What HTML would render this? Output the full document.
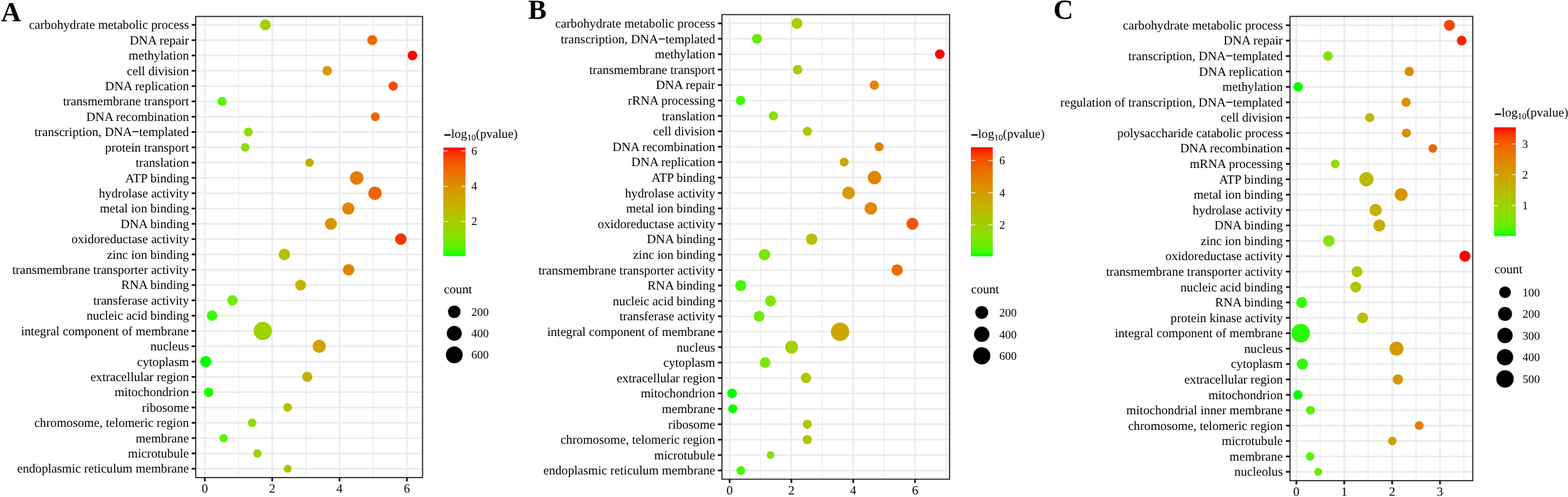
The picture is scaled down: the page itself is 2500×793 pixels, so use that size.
<!DOCTYPE html>
<html><head><meta charset="utf-8"><title>GO enrichment dot plots</title>
<style>
html,body{margin:0;padding:0;background:#fff;overflow:hidden;}
svg{display:block;}
text{font-family:"Liberation Serif","Times New Roman",serif;fill:#000;text-rendering:geometricPrecision;}
.lab{font-size:20.15px;}
.leg{font-size:18.5px;}
.big{font-size:44px;font-weight:bold;}
</style></head><body>
<svg width="2500" height="793" viewBox="0 0 2500 793">
<rect x="0" y="0" width="2500" height="793" fill="#fff"/>
<defs><linearGradient id="cbA" x1="0" y1="0" x2="0" y2="1"><stop offset="0.0000" stop-color="#FF0000"/><stop offset="0.0417" stop-color="#FC2E00"/><stop offset="0.0833" stop-color="#F84300"/><stop offset="0.1250" stop-color="#F45300"/><stop offset="0.1667" stop-color="#F16000"/><stop offset="0.2083" stop-color="#ED6C00"/><stop offset="0.2500" stop-color="#E87600"/><stop offset="0.2917" stop-color="#E48000"/><stop offset="0.3333" stop-color="#DF8A00"/><stop offset="0.3750" stop-color="#DA9200"/><stop offset="0.4167" stop-color="#D49B00"/><stop offset="0.4583" stop-color="#CFA300"/><stop offset="0.5000" stop-color="#C9AB00"/><stop offset="0.5417" stop-color="#C2B300"/><stop offset="0.5833" stop-color="#BBBA00"/><stop offset="0.6250" stop-color="#B3C200"/><stop offset="0.6667" stop-color="#ABC900"/><stop offset="0.7083" stop-color="#A2D000"/><stop offset="0.7500" stop-color="#98D700"/><stop offset="0.7917" stop-color="#8CDE00"/><stop offset="0.8333" stop-color="#7FE400"/><stop offset="0.8750" stop-color="#70EB00"/><stop offset="0.9167" stop-color="#5DF200"/><stop offset="0.9583" stop-color="#43F800"/><stop offset="1.0000" stop-color="#00FF00"/></linearGradient><linearGradient id="cbB" x1="0" y1="0" x2="0" y2="1"><stop offset="0.0000" stop-color="#FF0000"/><stop offset="0.0417" stop-color="#FC2E00"/><stop offset="0.0833" stop-color="#F84300"/><stop offset="0.1250" stop-color="#F45300"/><stop offset="0.1667" stop-color="#F16000"/><stop offset="0.2083" stop-color="#ED6C00"/><stop offset="0.2500" stop-color="#E87600"/><stop offset="0.2917" stop-color="#E48000"/><stop offset="0.3333" stop-color="#DF8A00"/><stop offset="0.3750" stop-color="#DA9200"/><stop offset="0.4167" stop-color="#D49B00"/><stop offset="0.4583" stop-color="#CFA300"/><stop offset="0.5000" stop-color="#C9AB00"/><stop offset="0.5417" stop-color="#C2B300"/><stop offset="0.5833" stop-color="#BBBA00"/><stop offset="0.6250" stop-color="#B3C200"/><stop offset="0.6667" stop-color="#ABC900"/><stop offset="0.7083" stop-color="#A2D000"/><stop offset="0.7500" stop-color="#98D700"/><stop offset="0.7917" stop-color="#8CDE00"/><stop offset="0.8333" stop-color="#7FE400"/><stop offset="0.8750" stop-color="#70EB00"/><stop offset="0.9167" stop-color="#5DF200"/><stop offset="0.9583" stop-color="#43F800"/><stop offset="1.0000" stop-color="#00FF00"/></linearGradient><linearGradient id="cbC" x1="0" y1="0" x2="0" y2="1"><stop offset="0.0000" stop-color="#FF0000"/><stop offset="0.0417" stop-color="#FC2E00"/><stop offset="0.0833" stop-color="#F84300"/><stop offset="0.1250" stop-color="#F45300"/><stop offset="0.1667" stop-color="#F16000"/><stop offset="0.2083" stop-color="#ED6C00"/><stop offset="0.2500" stop-color="#E87600"/><stop offset="0.2917" stop-color="#E48000"/><stop offset="0.3333" stop-color="#DF8A00"/><stop offset="0.3750" stop-color="#DA9200"/><stop offset="0.4167" stop-color="#D49B00"/><stop offset="0.4583" stop-color="#CFA300"/><stop offset="0.5000" stop-color="#C9AB00"/><stop offset="0.5417" stop-color="#C2B300"/><stop offset="0.5833" stop-color="#BBBA00"/><stop offset="0.6250" stop-color="#B3C200"/><stop offset="0.6667" stop-color="#ABC900"/><stop offset="0.7083" stop-color="#A2D000"/><stop offset="0.7500" stop-color="#98D700"/><stop offset="0.7917" stop-color="#8CDE00"/><stop offset="0.8333" stop-color="#7FE400"/><stop offset="0.8750" stop-color="#70EB00"/><stop offset="0.9167" stop-color="#5DF200"/><stop offset="0.9583" stop-color="#43F800"/><stop offset="1.0000" stop-color="#00FF00"/></linearGradient></defs>
<g id="panelA">
<text class="big" x="1.7" y="33.5">A</text>
<line x1="380.3" y1="26.3" x2="380.3" y2="762" stroke="#EBEBEB" stroke-width="1.4"/>
<line x1="487.7" y1="26.3" x2="487.7" y2="762" stroke="#EBEBEB" stroke-width="1.4"/>
<line x1="595.1" y1="26.3" x2="595.1" y2="762" stroke="#EBEBEB" stroke-width="1.4"/>
<line x1="326.6" y1="26.3" x2="326.6" y2="762" stroke="#EBEBEB" stroke-width="2.6"/>
<line x1="434" y1="26.3" x2="434" y2="762" stroke="#EBEBEB" stroke-width="2.6"/>
<line x1="541.4" y1="26.3" x2="541.4" y2="762" stroke="#EBEBEB" stroke-width="2.6"/>
<line x1="648.8" y1="26.3" x2="648.8" y2="762" stroke="#EBEBEB" stroke-width="2.6"/>
<line x1="312.1" y1="39.7" x2="673.7" y2="39.7" stroke="#EBEBEB" stroke-width="2.6"/>
<line x1="312.1" y1="64.12" x2="673.7" y2="64.12" stroke="#EBEBEB" stroke-width="2.6"/>
<line x1="312.1" y1="88.54" x2="673.7" y2="88.54" stroke="#EBEBEB" stroke-width="2.6"/>
<line x1="312.1" y1="112.96" x2="673.7" y2="112.96" stroke="#EBEBEB" stroke-width="2.6"/>
<line x1="312.1" y1="137.38" x2="673.7" y2="137.38" stroke="#EBEBEB" stroke-width="2.6"/>
<line x1="312.1" y1="161.8" x2="673.7" y2="161.8" stroke="#EBEBEB" stroke-width="2.6"/>
<line x1="312.1" y1="186.22" x2="673.7" y2="186.22" stroke="#EBEBEB" stroke-width="2.6"/>
<line x1="312.1" y1="210.64" x2="673.7" y2="210.64" stroke="#EBEBEB" stroke-width="2.6"/>
<line x1="312.1" y1="235.06" x2="673.7" y2="235.06" stroke="#EBEBEB" stroke-width="2.6"/>
<line x1="312.1" y1="259.48" x2="673.7" y2="259.48" stroke="#EBEBEB" stroke-width="2.6"/>
<line x1="312.1" y1="283.9" x2="673.7" y2="283.9" stroke="#EBEBEB" stroke-width="2.6"/>
<line x1="312.1" y1="308.32" x2="673.7" y2="308.32" stroke="#EBEBEB" stroke-width="2.6"/>
<line x1="312.1" y1="332.74" x2="673.7" y2="332.74" stroke="#EBEBEB" stroke-width="2.6"/>
<line x1="312.1" y1="357.16" x2="673.7" y2="357.16" stroke="#EBEBEB" stroke-width="2.6"/>
<line x1="312.1" y1="381.58" x2="673.7" y2="381.58" stroke="#EBEBEB" stroke-width="2.6"/>
<line x1="312.1" y1="406" x2="673.7" y2="406" stroke="#EBEBEB" stroke-width="2.6"/>
<line x1="312.1" y1="430.42" x2="673.7" y2="430.42" stroke="#EBEBEB" stroke-width="2.6"/>
<line x1="312.1" y1="454.84" x2="673.7" y2="454.84" stroke="#EBEBEB" stroke-width="2.6"/>
<line x1="312.1" y1="479.26" x2="673.7" y2="479.26" stroke="#EBEBEB" stroke-width="2.6"/>
<line x1="312.1" y1="503.68" x2="673.7" y2="503.68" stroke="#EBEBEB" stroke-width="2.6"/>
<line x1="312.1" y1="528.1" x2="673.7" y2="528.1" stroke="#EBEBEB" stroke-width="2.6"/>
<line x1="312.1" y1="552.52" x2="673.7" y2="552.52" stroke="#EBEBEB" stroke-width="2.6"/>
<line x1="312.1" y1="576.94" x2="673.7" y2="576.94" stroke="#EBEBEB" stroke-width="2.6"/>
<line x1="312.1" y1="601.36" x2="673.7" y2="601.36" stroke="#EBEBEB" stroke-width="2.6"/>
<line x1="312.1" y1="625.78" x2="673.7" y2="625.78" stroke="#EBEBEB" stroke-width="2.6"/>
<line x1="312.1" y1="650.2" x2="673.7" y2="650.2" stroke="#EBEBEB" stroke-width="2.6"/>
<line x1="312.1" y1="674.62" x2="673.7" y2="674.62" stroke="#EBEBEB" stroke-width="2.6"/>
<line x1="312.1" y1="699.04" x2="673.7" y2="699.04" stroke="#EBEBEB" stroke-width="2.6"/>
<line x1="312.1" y1="723.46" x2="673.7" y2="723.46" stroke="#EBEBEB" stroke-width="2.6"/>
<line x1="312.1" y1="747.88" x2="673.7" y2="747.88" stroke="#EBEBEB" stroke-width="2.6"/>
<circle cx="423.1" cy="39.7" r="8.65" fill="#A1D000"/>
<circle cx="593.5" cy="64.12" r="8" fill="#EE6800"/>
<circle cx="657.6" cy="88.54" r="7.7" fill="#FF0000"/>
<circle cx="521.7" cy="112.96" r="7.65" fill="#D59A00"/>
<circle cx="626.9" cy="137.38" r="7.35" fill="#F74700"/>
<circle cx="353.9" cy="161.8" r="7.25" fill="#5BF300"/>
<circle cx="598.3" cy="186.22" r="7.05" fill="#EF6400"/>
<circle cx="395.9" cy="210.64" r="7.05" fill="#8CDE00"/>
<circle cx="390.8" cy="235.06" r="6.95" fill="#87E100"/>
<circle cx="493.5" cy="259.48" r="6.85" fill="#C9AB00"/>
<circle cx="568.7" cy="283.9" r="10.75" fill="#E67B00"/>
<circle cx="597.9" cy="308.32" r="10.65" fill="#EF6400"/>
<circle cx="555.4" cy="332.74" r="9.75" fill="#E28500"/>
<circle cx="527.6" cy="357.16" r="9.55" fill="#D79600"/>
<circle cx="639.1" cy="381.58" r="9.25" fill="#FA3700"/>
<circle cx="453.5" cy="406" r="9.15" fill="#B4C100"/>
<circle cx="555.8" cy="430.42" r="9.15" fill="#E28400"/>
<circle cx="479.2" cy="454.84" r="8.65" fill="#C2B300"/>
<circle cx="370.6" cy="479.26" r="8.35" fill="#72EB00"/>
<circle cx="338.1" cy="503.68" r="8.35" fill="#39FA00"/>
<circle cx="419" cy="528.1" r="14.55" fill="#9ED200"/>
<circle cx="509" cy="552.52" r="10.45" fill="#D0A200"/>
<circle cx="328" cy="576.94" r="9.05" fill="#00FF00"/>
<circle cx="489.9" cy="601.36" r="8.15" fill="#C7AD00"/>
<circle cx="332.6" cy="625.78" r="7.65" fill="#25FD00"/>
<circle cx="458.6" cy="650.2" r="6.95" fill="#B7BE00"/>
<circle cx="402" cy="674.62" r="6.75" fill="#91DB00"/>
<circle cx="356.5" cy="699.04" r="6.65" fill="#5FF100"/>
<circle cx="410.5" cy="723.46" r="6.65" fill="#98D700"/>
<circle cx="458.6" cy="747.88" r="6.3" fill="#B7BE00"/>
<rect x="312.1" y="26.3" width="361.6" height="735.7" fill="none" stroke="#262626" stroke-width="1.8"/>
<line x1="305.6" y1="39.7" x2="312.1" y2="39.7" stroke="#141414" stroke-width="2.7"/>
<text class="lab" x="301.3" y="46.3" text-anchor="end">carbohydrate metabolic process</text>
<line x1="305.6" y1="64.12" x2="312.1" y2="64.12" stroke="#141414" stroke-width="2.7"/>
<text class="lab" x="301.3" y="70.72" text-anchor="end">DNA repair</text>
<line x1="305.6" y1="88.54" x2="312.1" y2="88.54" stroke="#141414" stroke-width="2.7"/>
<text class="lab" x="301.3" y="95.14" text-anchor="end">methylation</text>
<line x1="305.6" y1="112.96" x2="312.1" y2="112.96" stroke="#141414" stroke-width="2.7"/>
<text class="lab" x="301.3" y="119.56" text-anchor="end">cell division</text>
<line x1="305.6" y1="137.38" x2="312.1" y2="137.38" stroke="#141414" stroke-width="2.7"/>
<text class="lab" x="301.3" y="143.98" text-anchor="end">DNA replication</text>
<line x1="305.6" y1="161.8" x2="312.1" y2="161.8" stroke="#141414" stroke-width="2.7"/>
<text class="lab" x="301.3" y="168.4" text-anchor="end">transmembrane transport</text>
<line x1="305.6" y1="186.22" x2="312.1" y2="186.22" stroke="#141414" stroke-width="2.7"/>
<text class="lab" x="301.3" y="192.82" text-anchor="end">DNA recombination</text>
<line x1="305.6" y1="210.64" x2="312.1" y2="210.64" stroke="#141414" stroke-width="2.7"/>
<text class="lab" x="301.3" y="217.24" text-anchor="end">transcription, DNA<tspan stroke="#000" stroke-width="0.6">−</tspan>templated</text>
<line x1="305.6" y1="235.06" x2="312.1" y2="235.06" stroke="#141414" stroke-width="2.7"/>
<text class="lab" x="301.3" y="241.66" text-anchor="end">protein transport</text>
<line x1="305.6" y1="259.48" x2="312.1" y2="259.48" stroke="#141414" stroke-width="2.7"/>
<text class="lab" x="301.3" y="266.08" text-anchor="end">translation</text>
<line x1="305.6" y1="283.9" x2="312.1" y2="283.9" stroke="#141414" stroke-width="2.7"/>
<text class="lab" x="301.3" y="290.5" text-anchor="end">ATP binding</text>
<line x1="305.6" y1="308.32" x2="312.1" y2="308.32" stroke="#141414" stroke-width="2.7"/>
<text class="lab" x="301.3" y="314.92" text-anchor="end">hydrolase activity</text>
<line x1="305.6" y1="332.74" x2="312.1" y2="332.74" stroke="#141414" stroke-width="2.7"/>
<text class="lab" x="301.3" y="339.34" text-anchor="end">metal ion binding</text>
<line x1="305.6" y1="357.16" x2="312.1" y2="357.16" stroke="#141414" stroke-width="2.7"/>
<text class="lab" x="301.3" y="363.76" text-anchor="end">DNA binding</text>
<line x1="305.6" y1="381.58" x2="312.1" y2="381.58" stroke="#141414" stroke-width="2.7"/>
<text class="lab" x="301.3" y="388.18" text-anchor="end">oxidoreductase activity</text>
<line x1="305.6" y1="406" x2="312.1" y2="406" stroke="#141414" stroke-width="2.7"/>
<text class="lab" x="301.3" y="412.6" text-anchor="end">zinc ion binding</text>
<line x1="305.6" y1="430.42" x2="312.1" y2="430.42" stroke="#141414" stroke-width="2.7"/>
<text class="lab" x="301.3" y="437.02" text-anchor="end">transmembrane transporter activity</text>
<line x1="305.6" y1="454.84" x2="312.1" y2="454.84" stroke="#141414" stroke-width="2.7"/>
<text class="lab" x="301.3" y="461.44" text-anchor="end">RNA binding</text>
<line x1="305.6" y1="479.26" x2="312.1" y2="479.26" stroke="#141414" stroke-width="2.7"/>
<text class="lab" x="301.3" y="485.86" text-anchor="end">transferase activity</text>
<line x1="305.6" y1="503.68" x2="312.1" y2="503.68" stroke="#141414" stroke-width="2.7"/>
<text class="lab" x="301.3" y="510.28" text-anchor="end">nucleic acid binding</text>
<line x1="305.6" y1="528.1" x2="312.1" y2="528.1" stroke="#141414" stroke-width="2.7"/>
<text class="lab" x="301.3" y="534.7" text-anchor="end">integral component of membrane</text>
<line x1="305.6" y1="552.52" x2="312.1" y2="552.52" stroke="#141414" stroke-width="2.7"/>
<text class="lab" x="301.3" y="559.12" text-anchor="end">nucleus</text>
<line x1="305.6" y1="576.94" x2="312.1" y2="576.94" stroke="#141414" stroke-width="2.7"/>
<text class="lab" x="301.3" y="583.54" text-anchor="end">cytoplasm</text>
<line x1="305.6" y1="601.36" x2="312.1" y2="601.36" stroke="#141414" stroke-width="2.7"/>
<text class="lab" x="301.3" y="607.96" text-anchor="end">extracellular region</text>
<line x1="305.6" y1="625.78" x2="312.1" y2="625.78" stroke="#141414" stroke-width="2.7"/>
<text class="lab" x="301.3" y="632.38" text-anchor="end">mitochondrion</text>
<line x1="305.6" y1="650.2" x2="312.1" y2="650.2" stroke="#141414" stroke-width="2.7"/>
<text class="lab" x="301.3" y="656.8" text-anchor="end">ribosome</text>
<line x1="305.6" y1="674.62" x2="312.1" y2="674.62" stroke="#141414" stroke-width="2.7"/>
<text class="lab" x="301.3" y="681.22" text-anchor="end">chromosome, telomeric region</text>
<line x1="305.6" y1="699.04" x2="312.1" y2="699.04" stroke="#141414" stroke-width="2.7"/>
<text class="lab" x="301.3" y="705.64" text-anchor="end">membrane</text>
<line x1="305.6" y1="723.46" x2="312.1" y2="723.46" stroke="#141414" stroke-width="2.7"/>
<text class="lab" x="301.3" y="730.06" text-anchor="end">microtubule</text>
<line x1="305.6" y1="747.88" x2="312.1" y2="747.88" stroke="#141414" stroke-width="2.7"/>
<text class="lab" x="301.3" y="754.48" text-anchor="end">endoplasmic reticulum membrane</text>
<line x1="326.6" y1="762" x2="326.6" y2="768" stroke="#141414" stroke-width="2.7"/>
<text class="lab" x="326.6" y="786" text-anchor="middle">0</text>
<line x1="434" y1="762" x2="434" y2="768" stroke="#141414" stroke-width="2.7"/>
<text class="lab" x="434" y="786" text-anchor="middle">2</text>
<line x1="541.4" y1="762" x2="541.4" y2="768" stroke="#141414" stroke-width="2.7"/>
<text class="lab" x="541.4" y="786" text-anchor="middle">4</text>
<line x1="648.8" y1="762" x2="648.8" y2="768" stroke="#141414" stroke-width="2.7"/>
<text class="lab" x="648.8" y="786" text-anchor="middle">6</text>
<rect x="706.8" y="235.5" width="35.4" height="173" fill="url(#cbA)"/>
<line x1="706.8" y1="240.8" x2="713.88" y2="240.8" stroke="#fff" stroke-width="1.1"/>
<line x1="735.12" y1="240.8" x2="742.2" y2="240.8" stroke="#fff" stroke-width="1.1"/>
<text class="leg" x="751.5" y="246.9">6</text>
<line x1="706.8" y1="297.3" x2="713.88" y2="297.3" stroke="#fff" stroke-width="1.1"/>
<line x1="735.12" y1="297.3" x2="742.2" y2="297.3" stroke="#fff" stroke-width="1.1"/>
<text class="leg" x="751.5" y="303.4">4</text>
<line x1="706.8" y1="353.3" x2="713.88" y2="353.3" stroke="#fff" stroke-width="1.1"/>
<line x1="735.12" y1="353.3" x2="742.2" y2="353.3" stroke="#fff" stroke-width="1.1"/>
<text class="leg" x="751.5" y="359.4">2</text>
<text class="lab" style="font-size:20px" x="707.8" y="219.9"><tspan font-weight="bold" stroke="#000" stroke-width="0.8" dy="2.2">−</tspan><tspan dy="-2.2">log</tspan><tspan font-size="14px" dy="3.7">10</tspan><tspan dy="-3.7">(pvalue)</tspan></text>
<text class="lab" x="707.8" y="467.7">count</text>
<circle cx="724.3" cy="497.5" r="10.1" fill="#000"/>
<text class="leg" x="751.6" y="503.7">200</text>
<circle cx="724.3" cy="531.9" r="11.9" fill="#000"/>
<text class="leg" x="751.6" y="538.1">400</text>
<circle cx="724.3" cy="566.2" r="13.4" fill="#000"/>
<text class="leg" x="751.6" y="572.4">600</text>
</g>
<g id="panelB">
<text class="big" x="842.1" y="30.2">B</text>
<line x1="1212.57" y1="23.35" x2="1212.57" y2="764.6" stroke="#EBEBEB" stroke-width="1.4"/>
<line x1="1311.11" y1="23.35" x2="1311.11" y2="764.6" stroke="#EBEBEB" stroke-width="1.4"/>
<line x1="1409.65" y1="23.35" x2="1409.65" y2="764.6" stroke="#EBEBEB" stroke-width="1.4"/>
<line x1="1508.19" y1="23.35" x2="1508.19" y2="764.6" stroke="#EBEBEB" stroke-width="1.4"/>
<line x1="1163.3" y1="23.35" x2="1163.3" y2="764.6" stroke="#EBEBEB" stroke-width="2.6"/>
<line x1="1261.84" y1="23.35" x2="1261.84" y2="764.6" stroke="#EBEBEB" stroke-width="2.6"/>
<line x1="1360.38" y1="23.35" x2="1360.38" y2="764.6" stroke="#EBEBEB" stroke-width="2.6"/>
<line x1="1458.92" y1="23.35" x2="1458.92" y2="764.6" stroke="#EBEBEB" stroke-width="2.6"/>
<line x1="1151.1" y1="37.3" x2="1514" y2="37.3" stroke="#EBEBEB" stroke-width="2.6"/>
<line x1="1151.1" y1="61.9" x2="1514" y2="61.9" stroke="#EBEBEB" stroke-width="2.6"/>
<line x1="1151.1" y1="86.5" x2="1514" y2="86.5" stroke="#EBEBEB" stroke-width="2.6"/>
<line x1="1151.1" y1="111.1" x2="1514" y2="111.1" stroke="#EBEBEB" stroke-width="2.6"/>
<line x1="1151.1" y1="135.7" x2="1514" y2="135.7" stroke="#EBEBEB" stroke-width="2.6"/>
<line x1="1151.1" y1="160.3" x2="1514" y2="160.3" stroke="#EBEBEB" stroke-width="2.6"/>
<line x1="1151.1" y1="184.9" x2="1514" y2="184.9" stroke="#EBEBEB" stroke-width="2.6"/>
<line x1="1151.1" y1="209.5" x2="1514" y2="209.5" stroke="#EBEBEB" stroke-width="2.6"/>
<line x1="1151.1" y1="234.1" x2="1514" y2="234.1" stroke="#EBEBEB" stroke-width="2.6"/>
<line x1="1151.1" y1="258.7" x2="1514" y2="258.7" stroke="#EBEBEB" stroke-width="2.6"/>
<line x1="1151.1" y1="283.3" x2="1514" y2="283.3" stroke="#EBEBEB" stroke-width="2.6"/>
<line x1="1151.1" y1="307.9" x2="1514" y2="307.9" stroke="#EBEBEB" stroke-width="2.6"/>
<line x1="1151.1" y1="332.5" x2="1514" y2="332.5" stroke="#EBEBEB" stroke-width="2.6"/>
<line x1="1151.1" y1="357.1" x2="1514" y2="357.1" stroke="#EBEBEB" stroke-width="2.6"/>
<line x1="1151.1" y1="381.7" x2="1514" y2="381.7" stroke="#EBEBEB" stroke-width="2.6"/>
<line x1="1151.1" y1="406.3" x2="1514" y2="406.3" stroke="#EBEBEB" stroke-width="2.6"/>
<line x1="1151.1" y1="430.9" x2="1514" y2="430.9" stroke="#EBEBEB" stroke-width="2.6"/>
<line x1="1151.1" y1="455.5" x2="1514" y2="455.5" stroke="#EBEBEB" stroke-width="2.6"/>
<line x1="1151.1" y1="480.1" x2="1514" y2="480.1" stroke="#EBEBEB" stroke-width="2.6"/>
<line x1="1151.1" y1="504.7" x2="1514" y2="504.7" stroke="#EBEBEB" stroke-width="2.6"/>
<line x1="1151.1" y1="529.3" x2="1514" y2="529.3" stroke="#EBEBEB" stroke-width="2.6"/>
<line x1="1151.1" y1="553.9" x2="1514" y2="553.9" stroke="#EBEBEB" stroke-width="2.6"/>
<line x1="1151.1" y1="578.5" x2="1514" y2="578.5" stroke="#EBEBEB" stroke-width="2.6"/>
<line x1="1151.1" y1="603.1" x2="1514" y2="603.1" stroke="#EBEBEB" stroke-width="2.6"/>
<line x1="1151.1" y1="627.7" x2="1514" y2="627.7" stroke="#EBEBEB" stroke-width="2.6"/>
<line x1="1151.1" y1="652.3" x2="1514" y2="652.3" stroke="#EBEBEB" stroke-width="2.6"/>
<line x1="1151.1" y1="676.9" x2="1514" y2="676.9" stroke="#EBEBEB" stroke-width="2.6"/>
<line x1="1151.1" y1="701.5" x2="1514" y2="701.5" stroke="#EBEBEB" stroke-width="2.6"/>
<line x1="1151.1" y1="726.1" x2="1514" y2="726.1" stroke="#EBEBEB" stroke-width="2.6"/>
<line x1="1151.1" y1="750.7" x2="1514" y2="750.7" stroke="#EBEBEB" stroke-width="2.6"/>
<circle cx="1270.7" cy="37.3" r="8.75" fill="#A7CC00"/>
<circle cx="1206.9" cy="61.9" r="7.95" fill="#6EEC00"/>
<circle cx="1498.4" cy="86.5" r="7.75" fill="#FF0000"/>
<circle cx="1271.7" cy="111.1" r="7.65" fill="#A7CC00"/>
<circle cx="1394" cy="135.7" r="7.45" fill="#E18600"/>
<circle cx="1180.7" cy="160.3" r="7.55" fill="#42F900"/>
<circle cx="1233" cy="184.9" r="7.35" fill="#8ADF00"/>
<circle cx="1287.3" cy="209.5" r="7.3" fill="#B1C400"/>
<circle cx="1401.7" cy="234.1" r="7.15" fill="#E48000"/>
<circle cx="1345.9" cy="258.7" r="7.15" fill="#CEA400"/>
<circle cx="1394.3" cy="283.3" r="10.75" fill="#E18500"/>
<circle cx="1353" cy="307.9" r="10.15" fill="#D19F00"/>
<circle cx="1388.4" cy="332.5" r="10.05" fill="#DF8900"/>
<circle cx="1454.8" cy="357.1" r="9.55" fill="#F45500"/>
<circle cx="1294.1" cy="381.7" r="9.15" fill="#B5C000"/>
<circle cx="1218.9" cy="406.3" r="9.15" fill="#7CE600"/>
<circle cx="1430.4" cy="430.9" r="9.1" fill="#ED6B00"/>
<circle cx="1181" cy="455.5" r="8.7" fill="#43F800"/>
<circle cx="1228.5" cy="480.1" r="8.75" fill="#85E100"/>
<circle cx="1210.3" cy="504.7" r="8.65" fill="#72EA00"/>
<circle cx="1339.4" cy="529.3" r="14.65" fill="#CCA700"/>
<circle cx="1262.1" cy="553.9" r="10.35" fill="#A1D100"/>
<circle cx="1219.9" cy="578.5" r="8.55" fill="#7DE600"/>
<circle cx="1285.1" cy="603.1" r="8.25" fill="#B0C500"/>
<circle cx="1167.2" cy="627.7" r="7.75" fill="#00FF00"/>
<circle cx="1168.3" cy="652.3" r="7.25" fill="#0EFE00"/>
<circle cx="1287.1" cy="676.9" r="7.25" fill="#B1C400"/>
<circle cx="1287.1" cy="701.5" r="7.25" fill="#B1C400"/>
<circle cx="1228.5" cy="726.1" r="6.15" fill="#85E100"/>
<circle cx="1181" cy="750.7" r="6.95" fill="#43F800"/>
<rect x="1151.1" y="23.35" width="362.9" height="741.25" fill="none" stroke="#262626" stroke-width="1.8"/>
<line x1="1144.6" y1="37.3" x2="1151.1" y2="37.3" stroke="#141414" stroke-width="2.7"/>
<text class="lab" x="1140.3" y="43.9" text-anchor="end">carbohydrate metabolic process</text>
<line x1="1144.6" y1="61.9" x2="1151.1" y2="61.9" stroke="#141414" stroke-width="2.7"/>
<text class="lab" x="1140.3" y="68.5" text-anchor="end">transcription, DNA<tspan stroke="#000" stroke-width="0.6">−</tspan>templated</text>
<line x1="1144.6" y1="86.5" x2="1151.1" y2="86.5" stroke="#141414" stroke-width="2.7"/>
<text class="lab" x="1140.3" y="93.1" text-anchor="end">methylation</text>
<line x1="1144.6" y1="111.1" x2="1151.1" y2="111.1" stroke="#141414" stroke-width="2.7"/>
<text class="lab" x="1140.3" y="117.7" text-anchor="end">transmembrane transport</text>
<line x1="1144.6" y1="135.7" x2="1151.1" y2="135.7" stroke="#141414" stroke-width="2.7"/>
<text class="lab" x="1140.3" y="142.3" text-anchor="end">DNA repair</text>
<line x1="1144.6" y1="160.3" x2="1151.1" y2="160.3" stroke="#141414" stroke-width="2.7"/>
<text class="lab" x="1140.3" y="166.9" text-anchor="end">rRNA processing</text>
<line x1="1144.6" y1="184.9" x2="1151.1" y2="184.9" stroke="#141414" stroke-width="2.7"/>
<text class="lab" x="1140.3" y="191.5" text-anchor="end">translation</text>
<line x1="1144.6" y1="209.5" x2="1151.1" y2="209.5" stroke="#141414" stroke-width="2.7"/>
<text class="lab" x="1140.3" y="216.1" text-anchor="end">cell division</text>
<line x1="1144.6" y1="234.1" x2="1151.1" y2="234.1" stroke="#141414" stroke-width="2.7"/>
<text class="lab" x="1140.3" y="240.7" text-anchor="end">DNA recombination</text>
<line x1="1144.6" y1="258.7" x2="1151.1" y2="258.7" stroke="#141414" stroke-width="2.7"/>
<text class="lab" x="1140.3" y="265.3" text-anchor="end">DNA replication</text>
<line x1="1144.6" y1="283.3" x2="1151.1" y2="283.3" stroke="#141414" stroke-width="2.7"/>
<text class="lab" x="1140.3" y="289.9" text-anchor="end">ATP binding</text>
<line x1="1144.6" y1="307.9" x2="1151.1" y2="307.9" stroke="#141414" stroke-width="2.7"/>
<text class="lab" x="1140.3" y="314.5" text-anchor="end">hydrolase activity</text>
<line x1="1144.6" y1="332.5" x2="1151.1" y2="332.5" stroke="#141414" stroke-width="2.7"/>
<text class="lab" x="1140.3" y="339.1" text-anchor="end">metal ion binding</text>
<line x1="1144.6" y1="357.1" x2="1151.1" y2="357.1" stroke="#141414" stroke-width="2.7"/>
<text class="lab" x="1140.3" y="363.7" text-anchor="end">oxidoreductase activity</text>
<line x1="1144.6" y1="381.7" x2="1151.1" y2="381.7" stroke="#141414" stroke-width="2.7"/>
<text class="lab" x="1140.3" y="388.3" text-anchor="end">DNA binding</text>
<line x1="1144.6" y1="406.3" x2="1151.1" y2="406.3" stroke="#141414" stroke-width="2.7"/>
<text class="lab" x="1140.3" y="412.9" text-anchor="end">zinc ion binding</text>
<line x1="1144.6" y1="430.9" x2="1151.1" y2="430.9" stroke="#141414" stroke-width="2.7"/>
<text class="lab" x="1140.3" y="437.5" text-anchor="end">transmembrane transporter activity</text>
<line x1="1144.6" y1="455.5" x2="1151.1" y2="455.5" stroke="#141414" stroke-width="2.7"/>
<text class="lab" x="1140.3" y="462.1" text-anchor="end">RNA binding</text>
<line x1="1144.6" y1="480.1" x2="1151.1" y2="480.1" stroke="#141414" stroke-width="2.7"/>
<text class="lab" x="1140.3" y="486.7" text-anchor="end">nucleic acid binding</text>
<line x1="1144.6" y1="504.7" x2="1151.1" y2="504.7" stroke="#141414" stroke-width="2.7"/>
<text class="lab" x="1140.3" y="511.3" text-anchor="end">transferase activity</text>
<line x1="1144.6" y1="529.3" x2="1151.1" y2="529.3" stroke="#141414" stroke-width="2.7"/>
<text class="lab" x="1140.3" y="535.9" text-anchor="end">integral component of membrane</text>
<line x1="1144.6" y1="553.9" x2="1151.1" y2="553.9" stroke="#141414" stroke-width="2.7"/>
<text class="lab" x="1140.3" y="560.5" text-anchor="end">nucleus</text>
<line x1="1144.6" y1="578.5" x2="1151.1" y2="578.5" stroke="#141414" stroke-width="2.7"/>
<text class="lab" x="1140.3" y="585.1" text-anchor="end">cytoplasm</text>
<line x1="1144.6" y1="603.1" x2="1151.1" y2="603.1" stroke="#141414" stroke-width="2.7"/>
<text class="lab" x="1140.3" y="609.7" text-anchor="end">extracellular region</text>
<line x1="1144.6" y1="627.7" x2="1151.1" y2="627.7" stroke="#141414" stroke-width="2.7"/>
<text class="lab" x="1140.3" y="634.3" text-anchor="end">mitochondrion</text>
<line x1="1144.6" y1="652.3" x2="1151.1" y2="652.3" stroke="#141414" stroke-width="2.7"/>
<text class="lab" x="1140.3" y="658.9" text-anchor="end">membrane</text>
<line x1="1144.6" y1="676.9" x2="1151.1" y2="676.9" stroke="#141414" stroke-width="2.7"/>
<text class="lab" x="1140.3" y="683.5" text-anchor="end">ribosome</text>
<line x1="1144.6" y1="701.5" x2="1151.1" y2="701.5" stroke="#141414" stroke-width="2.7"/>
<text class="lab" x="1140.3" y="708.1" text-anchor="end">chromosome, telomeric region</text>
<line x1="1144.6" y1="726.1" x2="1151.1" y2="726.1" stroke="#141414" stroke-width="2.7"/>
<text class="lab" x="1140.3" y="732.7" text-anchor="end">microtubule</text>
<line x1="1144.6" y1="750.7" x2="1151.1" y2="750.7" stroke="#141414" stroke-width="2.7"/>
<text class="lab" x="1140.3" y="757.3" text-anchor="end">endoplasmic reticulum membrane</text>
<line x1="1163.3" y1="764.6" x2="1163.3" y2="770.6" stroke="#141414" stroke-width="2.7"/>
<text class="lab" x="1163.3" y="789.1" text-anchor="middle">0</text>
<line x1="1261.84" y1="764.6" x2="1261.84" y2="770.6" stroke="#141414" stroke-width="2.7"/>
<text class="lab" x="1261.84" y="789.1" text-anchor="middle">2</text>
<line x1="1360.38" y1="764.6" x2="1360.38" y2="770.6" stroke="#141414" stroke-width="2.7"/>
<text class="lab" x="1360.38" y="789.1" text-anchor="middle">4</text>
<line x1="1458.92" y1="764.6" x2="1458.92" y2="770.6" stroke="#141414" stroke-width="2.7"/>
<text class="lab" x="1458.92" y="789.1" text-anchor="middle">6</text>
<rect x="1548" y="235" width="34.8" height="174" fill="url(#cbB)"/>
<line x1="1548" y1="256.1" x2="1554.96" y2="256.1" stroke="#fff" stroke-width="1.1"/>
<line x1="1575.84" y1="256.1" x2="1582.8" y2="256.1" stroke="#fff" stroke-width="1.1"/>
<text class="leg" x="1593.2" y="262.2">6</text>
<line x1="1548" y1="307.5" x2="1554.96" y2="307.5" stroke="#fff" stroke-width="1.1"/>
<line x1="1575.84" y1="307.5" x2="1582.8" y2="307.5" stroke="#fff" stroke-width="1.1"/>
<text class="leg" x="1593.2" y="313.6">4</text>
<line x1="1548" y1="358.8" x2="1554.96" y2="358.8" stroke="#fff" stroke-width="1.1"/>
<line x1="1575.84" y1="358.8" x2="1582.8" y2="358.8" stroke="#fff" stroke-width="1.1"/>
<text class="leg" x="1593.2" y="364.9">2</text>
<text class="lab" style="font-size:20px" x="1548" y="219.9"><tspan font-weight="bold" stroke="#000" stroke-width="0.8" dy="2.2">−</tspan><tspan dy="-2.2">log</tspan><tspan font-size="14px" dy="3.7">10</tspan><tspan dy="-3.7">(pvalue)</tspan></text>
<text class="lab" x="1548.2" y="468.3">count</text>
<circle cx="1565.3" cy="498.6" r="10.4" fill="#000"/>
<text class="leg" x="1593.2" y="504.8">200</text>
<circle cx="1565.3" cy="533.3" r="12.2" fill="#000"/>
<text class="leg" x="1593.2" y="539.5">400</text>
<circle cx="1565.3" cy="567.8" r="13.7" fill="#000"/>
<text class="leg" x="1593.2" y="574">600</text>
</g>
<g id="panelC">
<text class="big" x="1679.5" y="30.3">C</text>
<line x1="2105.07" y1="26.2" x2="2105.07" y2="766.9" stroke="#EBEBEB" stroke-width="1.4"/>
<line x1="2181.39" y1="26.2" x2="2181.39" y2="766.9" stroke="#EBEBEB" stroke-width="1.4"/>
<line x1="2257.72" y1="26.2" x2="2257.72" y2="766.9" stroke="#EBEBEB" stroke-width="1.4"/>
<line x1="2334.06" y1="26.2" x2="2334.06" y2="766.9" stroke="#EBEBEB" stroke-width="1.4"/>
<line x1="2066.9" y1="26.2" x2="2066.9" y2="766.9" stroke="#EBEBEB" stroke-width="2.6"/>
<line x1="2143.23" y1="26.2" x2="2143.23" y2="766.9" stroke="#EBEBEB" stroke-width="2.6"/>
<line x1="2219.56" y1="26.2" x2="2219.56" y2="766.9" stroke="#EBEBEB" stroke-width="2.6"/>
<line x1="2295.89" y1="26.2" x2="2295.89" y2="766.9" stroke="#EBEBEB" stroke-width="2.6"/>
<line x1="2056.7" y1="40.3" x2="2348.2" y2="40.3" stroke="#EBEBEB" stroke-width="2.6"/>
<line x1="2056.7" y1="64.87" x2="2348.2" y2="64.87" stroke="#EBEBEB" stroke-width="2.6"/>
<line x1="2056.7" y1="89.44" x2="2348.2" y2="89.44" stroke="#EBEBEB" stroke-width="2.6"/>
<line x1="2056.7" y1="114.01" x2="2348.2" y2="114.01" stroke="#EBEBEB" stroke-width="2.6"/>
<line x1="2056.7" y1="138.58" x2="2348.2" y2="138.58" stroke="#EBEBEB" stroke-width="2.6"/>
<line x1="2056.7" y1="163.15" x2="2348.2" y2="163.15" stroke="#EBEBEB" stroke-width="2.6"/>
<line x1="2056.7" y1="187.72" x2="2348.2" y2="187.72" stroke="#EBEBEB" stroke-width="2.6"/>
<line x1="2056.7" y1="212.29" x2="2348.2" y2="212.29" stroke="#EBEBEB" stroke-width="2.6"/>
<line x1="2056.7" y1="236.86" x2="2348.2" y2="236.86" stroke="#EBEBEB" stroke-width="2.6"/>
<line x1="2056.7" y1="261.43" x2="2348.2" y2="261.43" stroke="#EBEBEB" stroke-width="2.6"/>
<line x1="2056.7" y1="286" x2="2348.2" y2="286" stroke="#EBEBEB" stroke-width="2.6"/>
<line x1="2056.7" y1="310.57" x2="2348.2" y2="310.57" stroke="#EBEBEB" stroke-width="2.6"/>
<line x1="2056.7" y1="335.14" x2="2348.2" y2="335.14" stroke="#EBEBEB" stroke-width="2.6"/>
<line x1="2056.7" y1="359.71" x2="2348.2" y2="359.71" stroke="#EBEBEB" stroke-width="2.6"/>
<line x1="2056.7" y1="384.28" x2="2348.2" y2="384.28" stroke="#EBEBEB" stroke-width="2.6"/>
<line x1="2056.7" y1="408.85" x2="2348.2" y2="408.85" stroke="#EBEBEB" stroke-width="2.6"/>
<line x1="2056.7" y1="433.42" x2="2348.2" y2="433.42" stroke="#EBEBEB" stroke-width="2.6"/>
<line x1="2056.7" y1="457.99" x2="2348.2" y2="457.99" stroke="#EBEBEB" stroke-width="2.6"/>
<line x1="2056.7" y1="482.56" x2="2348.2" y2="482.56" stroke="#EBEBEB" stroke-width="2.6"/>
<line x1="2056.7" y1="507.13" x2="2348.2" y2="507.13" stroke="#EBEBEB" stroke-width="2.6"/>
<line x1="2056.7" y1="531.7" x2="2348.2" y2="531.7" stroke="#EBEBEB" stroke-width="2.6"/>
<line x1="2056.7" y1="556.27" x2="2348.2" y2="556.27" stroke="#EBEBEB" stroke-width="2.6"/>
<line x1="2056.7" y1="580.84" x2="2348.2" y2="580.84" stroke="#EBEBEB" stroke-width="2.6"/>
<line x1="2056.7" y1="605.41" x2="2348.2" y2="605.41" stroke="#EBEBEB" stroke-width="2.6"/>
<line x1="2056.7" y1="629.98" x2="2348.2" y2="629.98" stroke="#EBEBEB" stroke-width="2.6"/>
<line x1="2056.7" y1="654.55" x2="2348.2" y2="654.55" stroke="#EBEBEB" stroke-width="2.6"/>
<line x1="2056.7" y1="679.12" x2="2348.2" y2="679.12" stroke="#EBEBEB" stroke-width="2.6"/>
<line x1="2056.7" y1="703.69" x2="2348.2" y2="703.69" stroke="#EBEBEB" stroke-width="2.6"/>
<line x1="2056.7" y1="728.26" x2="2348.2" y2="728.26" stroke="#EBEBEB" stroke-width="2.6"/>
<line x1="2056.7" y1="752.83" x2="2348.2" y2="752.83" stroke="#EBEBEB" stroke-width="2.6"/>
<circle cx="2310.9" cy="40.3" r="8.75" fill="#F74700"/>
<circle cx="2330.5" cy="64.87" r="7.75" fill="#FD1E00"/>
<circle cx="2117.3" cy="89.44" r="7.65" fill="#84E200"/>
<circle cx="2246.9" cy="114.01" r="7.45" fill="#DF8A00"/>
<circle cx="2069.7" cy="138.58" r="7.6" fill="#05FF00"/>
<circle cx="2241.9" cy="163.15" r="7.3" fill="#DD8E00"/>
<circle cx="2183.9" cy="187.72" r="7.25" fill="#BDB800"/>
<circle cx="2242.4" cy="212.29" r="7.15" fill="#DD8D00"/>
<circle cx="2284.4" cy="236.86" r="6.95" fill="#EE6800"/>
<circle cx="2128.8" cy="261.43" r="6.95" fill="#91DB00"/>
<circle cx="2178.6" cy="286" r="11.45" fill="#BABB00"/>
<circle cx="2234" cy="310.57" r="10.25" fill="#D99400"/>
<circle cx="2193.3" cy="335.14" r="9.85" fill="#C3B100"/>
<circle cx="2199.1" cy="359.71" r="9.55" fill="#C7AD00"/>
<circle cx="2118.6" cy="384.28" r="9.15" fill="#85E200"/>
<circle cx="2335.7" cy="408.85" r="8.85" fill="#FF0000"/>
<circle cx="2163.6" cy="433.42" r="8.75" fill="#AFC500"/>
<circle cx="2161.5" cy="457.99" r="8.65" fill="#AEC700"/>
<circle cx="2075.3" cy="482.56" r="8.7" fill="#30FC00"/>
<circle cx="2172.6" cy="507.13" r="8.55" fill="#B6BF00"/>
<circle cx="2073.8" cy="531.7" r="14.85" fill="#29FC00"/>
<circle cx="2226.5" cy="556.27" r="11.15" fill="#D59A00"/>
<circle cx="2076.5" cy="580.84" r="8.95" fill="#35FB00"/>
<circle cx="2228.7" cy="605.41" r="8.25" fill="#D69800"/>
<circle cx="2069.4" cy="629.98" r="7.55" fill="#00FF00"/>
<circle cx="2089.3" cy="654.55" r="7.05" fill="#58F300"/>
<circle cx="2262.7" cy="679.12" r="7" fill="#E67C00"/>
<circle cx="2219.9" cy="703.69" r="6.85" fill="#D29F00"/>
<circle cx="2088.8" cy="728.26" r="6.75" fill="#57F400"/>
<circle cx="2101.8" cy="752.83" r="6.3" fill="#6FEC00"/>
<rect x="2056.7" y="26.2" width="291.5" height="740.7" fill="none" stroke="#262626" stroke-width="1.8"/>
<line x1="2050.2" y1="40.3" x2="2056.7" y2="40.3" stroke="#141414" stroke-width="2.7"/>
<text class="lab" x="2045.3" y="46.9" text-anchor="end">carbohydrate metabolic process</text>
<line x1="2050.2" y1="64.87" x2="2056.7" y2="64.87" stroke="#141414" stroke-width="2.7"/>
<text class="lab" x="2045.3" y="71.47" text-anchor="end">DNA repair</text>
<line x1="2050.2" y1="89.44" x2="2056.7" y2="89.44" stroke="#141414" stroke-width="2.7"/>
<text class="lab" x="2045.3" y="96.04" text-anchor="end">transcription, DNA<tspan stroke="#000" stroke-width="0.6">−</tspan>templated</text>
<line x1="2050.2" y1="114.01" x2="2056.7" y2="114.01" stroke="#141414" stroke-width="2.7"/>
<text class="lab" x="2045.3" y="120.61" text-anchor="end">DNA replication</text>
<line x1="2050.2" y1="138.58" x2="2056.7" y2="138.58" stroke="#141414" stroke-width="2.7"/>
<text class="lab" x="2045.3" y="145.18" text-anchor="end">methylation</text>
<line x1="2050.2" y1="163.15" x2="2056.7" y2="163.15" stroke="#141414" stroke-width="2.7"/>
<text class="lab" x="2045.3" y="169.75" text-anchor="end">regulation of transcription, DNA<tspan stroke="#000" stroke-width="0.6">−</tspan>templated</text>
<line x1="2050.2" y1="187.72" x2="2056.7" y2="187.72" stroke="#141414" stroke-width="2.7"/>
<text class="lab" x="2045.3" y="194.32" text-anchor="end">cell division</text>
<line x1="2050.2" y1="212.29" x2="2056.7" y2="212.29" stroke="#141414" stroke-width="2.7"/>
<text class="lab" x="2045.3" y="218.89" text-anchor="end">polysaccharide catabolic process</text>
<line x1="2050.2" y1="236.86" x2="2056.7" y2="236.86" stroke="#141414" stroke-width="2.7"/>
<text class="lab" x="2045.3" y="243.46" text-anchor="end">DNA recombination</text>
<line x1="2050.2" y1="261.43" x2="2056.7" y2="261.43" stroke="#141414" stroke-width="2.7"/>
<text class="lab" x="2045.3" y="268.03" text-anchor="end">mRNA processing</text>
<line x1="2050.2" y1="286" x2="2056.7" y2="286" stroke="#141414" stroke-width="2.7"/>
<text class="lab" x="2045.3" y="292.6" text-anchor="end">ATP binding</text>
<line x1="2050.2" y1="310.57" x2="2056.7" y2="310.57" stroke="#141414" stroke-width="2.7"/>
<text class="lab" x="2045.3" y="317.17" text-anchor="end">metal ion binding</text>
<line x1="2050.2" y1="335.14" x2="2056.7" y2="335.14" stroke="#141414" stroke-width="2.7"/>
<text class="lab" x="2045.3" y="341.74" text-anchor="end">hydrolase activity</text>
<line x1="2050.2" y1="359.71" x2="2056.7" y2="359.71" stroke="#141414" stroke-width="2.7"/>
<text class="lab" x="2045.3" y="366.31" text-anchor="end">DNA binding</text>
<line x1="2050.2" y1="384.28" x2="2056.7" y2="384.28" stroke="#141414" stroke-width="2.7"/>
<text class="lab" x="2045.3" y="390.88" text-anchor="end">zinc ion binding</text>
<line x1="2050.2" y1="408.85" x2="2056.7" y2="408.85" stroke="#141414" stroke-width="2.7"/>
<text class="lab" x="2045.3" y="415.45" text-anchor="end">oxidoreductase activity</text>
<line x1="2050.2" y1="433.42" x2="2056.7" y2="433.42" stroke="#141414" stroke-width="2.7"/>
<text class="lab" x="2045.3" y="440.02" text-anchor="end">transmembrane transporter activity</text>
<line x1="2050.2" y1="457.99" x2="2056.7" y2="457.99" stroke="#141414" stroke-width="2.7"/>
<text class="lab" x="2045.3" y="464.59" text-anchor="end">nucleic acid binding</text>
<line x1="2050.2" y1="482.56" x2="2056.7" y2="482.56" stroke="#141414" stroke-width="2.7"/>
<text class="lab" x="2045.3" y="489.16" text-anchor="end">RNA binding</text>
<line x1="2050.2" y1="507.13" x2="2056.7" y2="507.13" stroke="#141414" stroke-width="2.7"/>
<text class="lab" x="2045.3" y="513.73" text-anchor="end">protein kinase activity</text>
<line x1="2050.2" y1="531.7" x2="2056.7" y2="531.7" stroke="#141414" stroke-width="2.7"/>
<text class="lab" x="2045.3" y="538.3" text-anchor="end">integral component of membrane</text>
<line x1="2050.2" y1="556.27" x2="2056.7" y2="556.27" stroke="#141414" stroke-width="2.7"/>
<text class="lab" x="2045.3" y="562.87" text-anchor="end">nucleus</text>
<line x1="2050.2" y1="580.84" x2="2056.7" y2="580.84" stroke="#141414" stroke-width="2.7"/>
<text class="lab" x="2045.3" y="587.44" text-anchor="end">cytoplasm</text>
<line x1="2050.2" y1="605.41" x2="2056.7" y2="605.41" stroke="#141414" stroke-width="2.7"/>
<text class="lab" x="2045.3" y="612.01" text-anchor="end">extracellular region</text>
<line x1="2050.2" y1="629.98" x2="2056.7" y2="629.98" stroke="#141414" stroke-width="2.7"/>
<text class="lab" x="2045.3" y="636.58" text-anchor="end">mitochondrion</text>
<line x1="2050.2" y1="654.55" x2="2056.7" y2="654.55" stroke="#141414" stroke-width="2.7"/>
<text class="lab" x="2045.3" y="661.15" text-anchor="end">mitochondrial inner membrane</text>
<line x1="2050.2" y1="679.12" x2="2056.7" y2="679.12" stroke="#141414" stroke-width="2.7"/>
<text class="lab" x="2045.3" y="685.72" text-anchor="end">chromosome, telomeric region</text>
<line x1="2050.2" y1="703.69" x2="2056.7" y2="703.69" stroke="#141414" stroke-width="2.7"/>
<text class="lab" x="2045.3" y="710.29" text-anchor="end">microtubule</text>
<line x1="2050.2" y1="728.26" x2="2056.7" y2="728.26" stroke="#141414" stroke-width="2.7"/>
<text class="lab" x="2045.3" y="734.86" text-anchor="end">membrane</text>
<line x1="2050.2" y1="752.83" x2="2056.7" y2="752.83" stroke="#141414" stroke-width="2.7"/>
<text class="lab" x="2045.3" y="759.43" text-anchor="end">nucleolus</text>
<line x1="2066.9" y1="766.9" x2="2066.9" y2="772.9" stroke="#141414" stroke-width="2.7"/>
<text class="lab" x="2066.9" y="791.2" text-anchor="middle">0</text>
<line x1="2143.23" y1="766.9" x2="2143.23" y2="772.9" stroke="#141414" stroke-width="2.7"/>
<text class="lab" x="2143.23" y="791.2" text-anchor="middle">1</text>
<line x1="2219.56" y1="766.9" x2="2219.56" y2="772.9" stroke="#141414" stroke-width="2.7"/>
<text class="lab" x="2219.56" y="791.2" text-anchor="middle">2</text>
<line x1="2295.89" y1="766.9" x2="2295.89" y2="772.9" stroke="#141414" stroke-width="2.7"/>
<text class="lab" x="2295.89" y="791.2" text-anchor="middle">3</text>
<rect x="2382.1" y="203.2" width="34.7" height="173.3" fill="url(#cbC)"/>
<line x1="2382.1" y1="229.6" x2="2389.04" y2="229.6" stroke="#fff" stroke-width="1.1"/>
<line x1="2409.86" y1="229.6" x2="2416.8" y2="229.6" stroke="#fff" stroke-width="1.1"/>
<text class="leg" x="2427.1" y="235.7">3</text>
<line x1="2382.1" y1="278.8" x2="2389.04" y2="278.8" stroke="#fff" stroke-width="1.1"/>
<line x1="2409.86" y1="278.8" x2="2416.8" y2="278.8" stroke="#fff" stroke-width="1.1"/>
<text class="leg" x="2427.1" y="284.9">2</text>
<line x1="2382.1" y1="328.1" x2="2389.04" y2="328.1" stroke="#fff" stroke-width="1.1"/>
<line x1="2409.86" y1="328.1" x2="2416.8" y2="328.1" stroke="#fff" stroke-width="1.1"/>
<text class="leg" x="2427.1" y="334.2">1</text>
<text class="lab" style="font-size:20px" x="2382.7" y="186.4"><tspan font-weight="bold" stroke="#000" stroke-width="0.8" dy="2.2">−</tspan><tspan dy="-2.2">log</tspan><tspan font-size="14px" dy="3.7">10</tspan><tspan dy="-3.7">(pvalue)</tspan></text>
<text class="lab" x="2382.7" y="436.3">count</text>
<circle cx="2399.6" cy="466.3" r="9.3" fill="#000"/>
<text class="leg" x="2427.4" y="472.5">100</text>
<circle cx="2399.6" cy="500.9" r="11.1" fill="#000"/>
<text class="leg" x="2427.4" y="507.1">200</text>
<circle cx="2399.6" cy="535.3" r="12.2" fill="#000"/>
<text class="leg" x="2427.4" y="541.5">300</text>
<circle cx="2399.6" cy="570" r="13" fill="#000"/>
<text class="leg" x="2427.4" y="576.2">400</text>
<circle cx="2399.6" cy="604.6" r="13.9" fill="#000"/>
<text class="leg" x="2427.4" y="610.8">500</text>
</g>
</svg>
</body></html>
